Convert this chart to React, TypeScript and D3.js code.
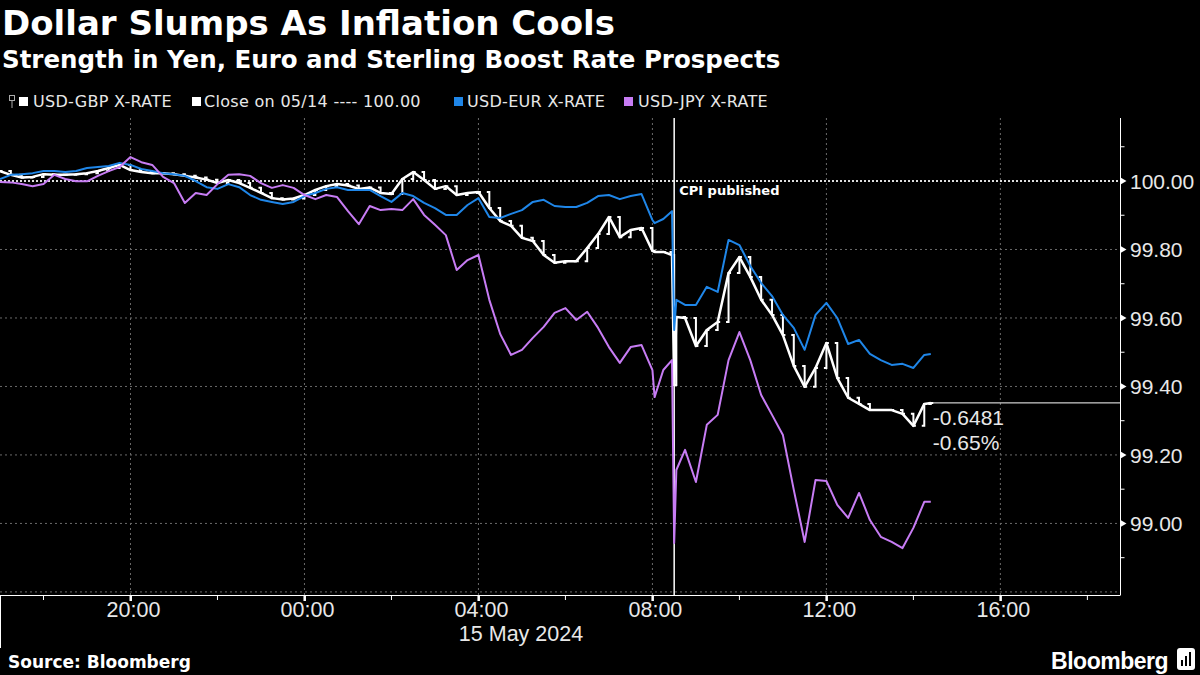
import { scaleLinear, line, curveLinear } from "d3";

// hours since 05/14 00:00
const times = [
  17, 17.25, 17.5, 17.75, 18, 18.25, 18.5, 18.75, 19, 19.25, 19.5, 19.75,
  20, 20.25, 20.5, 20.75, 21, 21.25, 21.5, 21.75, 22, 22.25, 22.5, 22.75,
  23, 23.25, 23.5, 23.75, 24, 24.25, 24.5, 24.75, 25, 25.25, 25.5, 25.75,
  26, 26.25, 26.5, 26.75, 27, 27.25, 27.5, 27.75, 28, 28.25, 28.5, 28.75,
  29, 29.25, 29.5, 29.75, 30, 30.25, 30.5, 30.75, 31, 31.25, 31.5, 31.75,
  32, 32.05, 32.25, 32.45, 32.5, 32.55,
  32.75, 33, 33.25, 33.5, 33.75, 34, 34.25, 34.5, 34.75, 35, 35.25, 35.5,
  35.75, 36, 36.25, 36.5, 36.75, 37, 37.25, 37.5, 37.75, 38, 38.25, 38.4,
];

const gbp = [
  100.029, 100.018, 100.010, 100.012, 100.020, 100.018, 100.018, 100.020, 100.023, 100.029, 100.038, 100.047,
  100.032, 100.026, 100.023, 100.023, 100.020, 100.015, 100.010, 100.004, 99.994, 100.003, 99.994, 99.980,
  99.965, 99.950, 99.946, 99.949, 99.959, 99.974, 99.985, 99.991, 99.987, 99.977, 99.981, 99.965,
  99.962, 100.006, 100.026, 100.003, 99.977, 99.985, 99.959, 99.965, 99.968, 99.921, 99.883, 99.869,
  99.834, 99.825, 99.784, 99.761, 99.766, 99.766, 99.804, 99.845, 99.895, 99.836, 99.857, 99.863,
  99.796, 99.793, 99.793, 99.784, 99.404, 99.603,
  99.600, 99.518, 99.565, 99.588, 99.731, 99.778, 99.720, 99.653, 99.609, 99.550, 99.460, 99.399,
  99.454, 99.527, 99.425, 99.367, 99.349, 99.331, 99.331, 99.331, 99.320, 99.285, 99.349, 99.352,
];

const eur = [
  100.006, 100.018, 100.020, 100.023, 100.029, 100.029, 100.026, 100.029, 100.038, 100.041, 100.044, 100.053,
  100.047, 100.035, 100.029, 100.023, 100.020, 100.015, 100.000, 99.982, 99.977, 99.991, 99.982, 99.959,
  99.945, 99.939, 99.933, 99.939, 99.956, 99.965, 99.977, 99.982, 99.974, 99.974, 99.974, 99.956,
  99.939, 99.965, 99.956, 99.936, 99.921, 99.901, 99.901, 99.930, 99.950, 99.895, 99.892, 99.904,
  99.915, 99.939, 99.945, 99.927, 99.924, 99.924, 99.936, 99.956, 99.959, 99.947, 99.956, 99.962,
  99.886, 99.877, 99.889, 99.912, 99.565, 99.653,
  99.638, 99.638, 99.691, 99.676, 99.828, 99.813, 99.752, 99.702, 99.664, 99.609, 99.571, 99.507,
  99.609, 99.644, 99.600, 99.524, 99.536, 99.495, 99.477, 99.463, 99.466, 99.454, 99.492, 99.495,
];

const jpy = [
  99.997, 99.996, 99.991, 99.985, 99.991, 100.018, 100.006, 99.999, 99.999, 100.015, 100.029, 100.041,
  100.070, 100.055, 100.047, 100.012, 99.994, 99.936, 99.965, 99.959, 99.991, 100.018, 100.020, 100.015,
  99.994, 99.980, 99.988, 99.980, 99.959, 99.947, 99.959, 99.953, 99.912, 99.874, 99.927, 99.915,
  99.918, 99.915, 99.947, 99.901, 99.872, 99.842, 99.740, 99.769, 99.784, 99.653, 99.553, 99.492,
  99.507, 99.542, 99.574, 99.615, 99.629, 99.594, 99.618, 99.571, 99.515, 99.469, 99.515, 99.521,
  99.448, 99.369, 99.448, 99.477, 98.943, 99.156,
  99.215, 99.121, 99.288, 99.317, 99.477, 99.559, 99.477, 99.375, 99.317, 99.258, 99.098, 98.946,
  99.127, 99.124, 99.054, 99.016, 99.089, 99.010, 98.961, 98.946, 98.928, 98.987, 99.063, 99.063,
];

const majorHours = [20, 24, 28, 32, 36, 40];
const hourLabels = ["20:00", "00:00", "04:00", "08:00", "12:00", "16:00"];
const minorHours = [18, 22, 26, 30, 34, 38, 42];
const yLabels = [99.0, 99.2, 99.4, 99.6, 99.8, 100.0];
const yGrid = [98.8, 99.0, 99.2, 99.4, 99.6, 99.8];
const yMinor = [98.9, 99.1, 99.3, 99.5, 99.7, 99.9, 100.1];
const prevClose = 100.0;
const cpiHour = 32.5;
const lastChange = "-0.6481";
const lastPct = "-0.65%";

const BLUE = "#1f86e8";
const PURPLE = "#c77cf4";
const GRID = "#6a6a6a";
const LABEL = "#e8e8e8";

export default function App() {
  const x = scaleLinear().domain([17, 42.75]).range([0, 1120]);
  const y = scaleLinear().domain([98.791, 100.184]).range([595, 118]);

  const mk = (vals: number[]) =>
    line<number>()
      .x((_, i) => x(times[i]))
      .y((v) => y(v))
      .curve(curveLinear)(vals) ?? "";

  // bar-style ticks for the GBP series (open = previous close)
  const gbpBars = gbp.map((c, i) => {
    const o = i > 0 ? gbp[i - 1] : c;
    const px = x(times[i]);
    return `M${px - 2.5},${y(o)}H${px}V${y(c)}H${px + 2.5}`;
  }).join("");

  const lastX = x(times[times.length - 1]);
  const lastY = y(gbp[gbp.length - 1]);
  const axisX = 1120.5;

  return (
    <svg
      width={1200}
      height={675}
      style={{ position: "absolute", left: 0, top: 0, background: "#000" }}
    >
      <rect width={1200} height={675} fill="#000" />

      {/* titles */}
      <text x={2} y={35} fill="#fff" fontFamily="DejaVu Sans" fontWeight="bold" fontSize={34}>
        Dollar Slumps As Inflation Cools
      </text>
      <text x={2} y={68} fill="#fff" fontFamily="DejaVu Sans" fontWeight="bold" fontSize={24.5}>
        Strength in Yen, Euro and Sterling Boost Rate Prospects
      </text>

      {/* legend */}
      <g fontFamily="DejaVu Sans" fontSize={16} fill={LABEL} letterSpacing={0.3}>
        <rect x={9.5} y={95.5} width={5} height={5} fill="none" stroke="#aaa" />
        <line x1={12} x2={12} y1={101} y2={108} stroke="#aaa" />
        <rect x={19} y={97} width={9} height={9} fill="#fff" />
        <text x={33} y={107}>USD-GBP X-RATE</text>
        <rect x={192} y={97} width={9} height={9} fill="#fff" />
        <text x={204} y={107}>Close on 05/14 ---- 100.00</text>
        <rect x={454} y={97} width={9} height={9} fill={BLUE} />
        <text x={467} y={107}>USD-EUR X-RATE</text>
        <rect x={624} y={97} width={9} height={9} fill={PURPLE} />
        <text x={638} y={107}>USD-JPY X-RATE</text>
      </g>

      {/* grid */}
      {yGrid.map((v) => (
        <line key={"hg" + v} x1={0} x2={1120} y1={y(v)} y2={y(v)} stroke={GRID} strokeDasharray="2,3" />
      ))}
      {majorHours.map((h) => (
        <line key={"vg" + h} x1={x(h)} x2={x(h)} y1={118} y2={595} stroke={GRID} strokeDasharray="2,3" />
      ))}
      <line x1={0} x2={1120} y1={y(prevClose)} y2={y(prevClose)} stroke="#ddd" strokeWidth={2} strokeDasharray="2,2" />

      {/* CPI marker */}
      <line x1={x(cpiHour)} x2={x(cpiHour)} y1={118} y2={595} stroke="#fff" strokeWidth={1.5} />
      <text x={x(cpiHour) + 5} y={195} fill="#fff" fontFamily="DejaVu Sans" fontWeight="bold" fontSize={13}>
        CPI published
      </text>

      {/* series */}
      <path d={mk(gbp)} fill="none" stroke="#fff" strokeWidth={2.5} strokeLinejoin="round" />
      <path d={gbpBars} fill="none" stroke="#fff" strokeWidth={2} />
      <path d={mk(eur)} fill="none" stroke={BLUE} strokeWidth={2} strokeLinejoin="round" />
      <path d={mk(jpy)} fill="none" stroke={PURPLE} strokeWidth={2} strokeLinejoin="round" />

      {/* last value */}
      <line x1={lastX + 2} x2={axisX} y1={lastY} y2={lastY} stroke="#fff" strokeWidth={1} />
      <g fontFamily="Liberation Sans" fontSize={21} fill={LABEL}>
        <text x={lastX + 2} y={425}>{lastChange}</text>
        <text x={lastX + 2} y={450}>{lastPct}</text>
      </g>

      {/* right axis */}
      <line x1={axisX} x2={axisX} y1={118} y2={595} stroke="#fff" />
      {yMinor.map((v) => (
        <line key={"ym" + v} x1={axisX} x2={axisX + 4} y1={y(v)} y2={y(v)} stroke="#fff" />
      ))}
      {yLabels.map((v) => (
        <g key={"yl" + v}>
          <path d={`M${axisX},${y(v) - 3.5}L${axisX + 6},${y(v)}L${axisX},${y(v) + 3.5}Z`} fill="#fff" />
          <text x={1130} y={y(v)} dy="0.36em" fill={LABEL} fontFamily="Liberation Sans" fontSize={21}>
            {v.toFixed(2)}
          </text>
        </g>
      ))}

      {/* bottom axis */}
      <line x1={0} x2={axisX} y1={595.5} y2={595.5} stroke="#fff" />
      <line x1={0.5} x2={0.5} y1={595} y2={648} stroke="#fff" />
      {minorHours.map((h) => (
        <line key={"xm" + h} x1={x(h)} x2={x(h)} y1={596} y2={600} stroke="#fff" />
      ))}
      {majorHours.map((h, i) => (
        <g key={"xl" + h}>
          <rect x={x(h) - 1} y={596} width={2.5} height={5} fill="#fff" />
          <text x={x(h) + 3} y={617} textAnchor="middle" fill={LABEL} fontFamily="Liberation Sans" fontSize={21.5}>
            {hourLabels[i]}
          </text>
        </g>
      ))}
      <text x={521} y={641} textAnchor="middle" fill={LABEL} fontFamily="Liberation Sans" fontSize={21.5}>
        15 May 2024
      </text>

      {/* footer */}
      <text x={8} y={668} fill="#fff" fontFamily="DejaVu Sans" fontWeight="bold" fontSize={17}>
        Source: Bloomberg
      </text>
      <text x={1168} y={669} textAnchor="end" fill="#fff" fontFamily="Liberation Sans" fontWeight="bold" fontSize={23} letterSpacing={-0.5}>
        Bloomberg
      </text>
      <rect x={1177} y={648} width={18} height={22} rx={3} fill="#fff" />
      <rect x={1181} y={660} width={2} height={6} fill="#000" />
      <rect x={1185} y={656} width={2} height={10} fill="#000" />
      <rect x={1189} y={652} width={2} height={14} fill="#000" />
    </svg>
  );
}
